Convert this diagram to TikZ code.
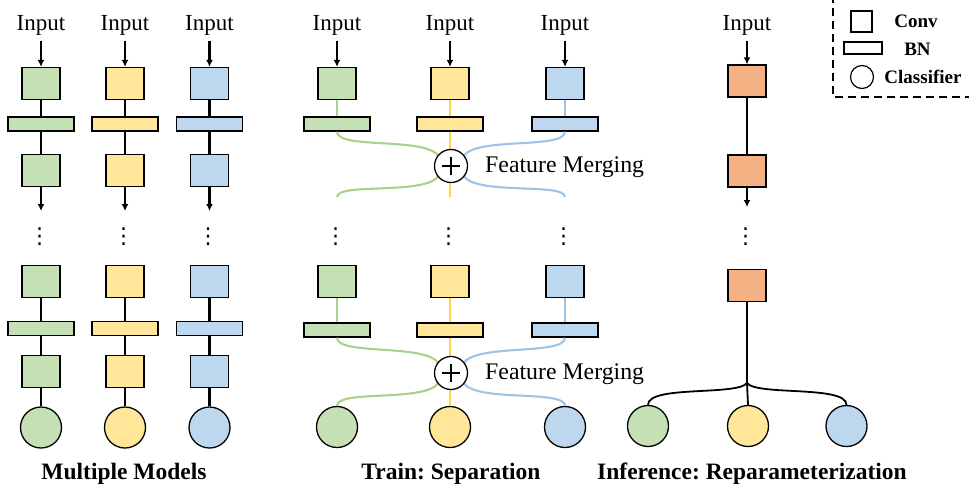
\documentclass[tikz,border=0pt]{standalone}
\usepackage{fontspec}
\setmainfont{Liberation Serif}
\newfontfamily\dvs{DejaVu Sans}
\usetikzlibrary{arrows.meta}
\definecolor{cg}{HTML}{C5E0B4}
\definecolor{cy}{HTML}{FFE699}
\definecolor{cb}{HTML}{BDD7EE}
\definecolor{co}{HTML}{F4B183}
\definecolor{lg}{HTML}{A9D18E}
\definecolor{ly}{HTML}{FFD347}
\definecolor{lb}{HTML}{9DC3E6}
\frenchspacing
\begin{document}
\begin{tikzpicture}[x=1pt,y=-1pt,
  conv/.style={draw, line width=1.3pt, minimum width=38pt, minimum height=32pt, inner sep=0pt},
  bnbox/.style={draw, line width=1.3pt, minimum width=66pt, minimum height=14pt, inner sep=0pt},
  cls/.style={draw, circle, line width=1.3pt, minimum size=41pt, inner sep=0pt},
  plusc/.style={draw, circle, line width=1.3pt, minimum size=33pt, inner sep=0pt, fill=white},
  inp/.style={font=\fontsize{23}{27}\selectfont, anchor=base, inner sep=2pt},
  fmt/.style={font=\fontsize{23.8}{27}\selectfont, anchor=west, inner sep=0pt},
  ttl/.style={font=\fontsize{23.5}{28}\selectfont\bfseries},
  lgd/.style={font=\fontsize{19}{22}\selectfont\bfseries},
  vd/.style={font=\dvs\fontsize{22}{24}\selectfont, inner sep=0pt},
  blk/.style={line width=2.5pt},
  arr/.style={line width=2.5pt, -{Latex[length=7pt,width=7pt]}},
  col/.style={line width=2.1pt}
]
\useasboundingbox (0,0) rectangle (969,490);

% ---------------- Multiple Models ----------------
\foreach \c/\x/\n in {cg/41/a, cy/125/b, cb/209.5/c}{
  \node[inp] (mi\n) at (\x,30) {Input};
  \node[conv, fill=\c] (mc1\n) at (\x,83.5) {};
  \node[bnbox, fill=\c] (mb1\n) at (\x,124) {};
  \node[conv, fill=\c] (mc2\n) at (\x,170.5) {};
  \coordinate (me\n) at (\x,211);
  \node[vd] (md\n) at (\x-1.5,237) {⋮};
  \node[conv, fill=\c] (mc3\n) at (\x,281.5) {};
  \node[bnbox, fill=\c] (mb2\n) at (\x,328.5) {};
  \node[conv, fill=\c] (mc4\n) at (\x,371.5) {};
  \node[cls, fill=\c] (mk\n) at (\x,427.5) {};
  \draw[arr, shorten <=4pt] (mi\n.south) -- (mc1\n.north);
  \draw[blk] (mc1\n) -- (mb1\n);
  \draw[blk] (mb1\n) -- (mc2\n);
  \draw[arr] (mc2\n.south) -- (me\n);
  \draw[blk] (mc3\n) -- (mb2\n);
  \draw[blk] (mb2\n) -- (mc4\n);
  \draw[blk] (mc4\n) -- (mk\n);
}
\node[ttl] (t1) at (124,474) {Multiple Models};

% ---------------- Train: Separation ----------------
\foreach \c/\l/\x/\n in {cg/lg/337/a, cy/ly/450/b, cb/lb/565/c}{
  \node[inp] (ti\n) at (\x,30) {Input};
  \node[conv, fill=\c] (tc1\n) at (\x,83.5) {};
  \node[bnbox, fill=\c] (tb1\n) at (\x,124) {};
  \coordinate (te\n) at (\x,197);
  \node[vd] (td\n) at (\x-1.5,237) {⋮};
  \node[conv, fill=\c] (tc2\n) at (\x,281.5) {};
  \node[bnbox, fill=\c] (tb2\n) at (\x,330) {};
  \node[cls, fill=\c] (tk\n) at (\x,427) {};
  \draw[arr, shorten <=4pt] (ti\n.south) -- (tc1\n.north);
  \draw[col, \l] (tc1\n) -- (tb1\n);
  \draw[col, \l] (tc2\n) -- (tb2\n);
}
% yellow verticals
\draw[col, ly] (tb1b.south) -- (teb);
\draw[col, ly] (tb2b.south) -- (tkb.north);
% top curves
\draw[col, lg] (tb1a.south) .. controls (337,150) and (428,136) .. (439,157);
\draw[col, lg] (439,175) .. controls (428,196) and (337,182) .. (tea);
\draw[col, lb] (tb1c.south) .. controls (565,150) and (474,136) .. (463,157);
\draw[col, lb] (463,175) .. controls (474,196) and (565,182) .. (tec);
% bottom curves
\draw[col, lg] (tb2a.south) .. controls (337,356) and (428,343) .. (439,364);
\draw[col, lg] (439,382) .. controls (428,403) and (337,389) .. (tka.north);
\draw[col, lb] (tb2c.south) .. controls (565,356) and (474,343) .. (463,364);
\draw[col, lb] (463,382) .. controls (474,403) and (565,389) .. (tkc.north);
% plus nodes
\node[plusc] (p1) at (451,166) {};
\node[plusc] (p2) at (451,373) {};
\foreach \p in {p1,p2}{
  \draw[line width=1.5pt] ([xshift=-9pt]\p.center) -- ([xshift=9pt]\p.center);
  \draw[line width=1.5pt] ([yshift=-9pt]\p.center) -- ([yshift=9pt]\p.center);
}
\node[fmt] (fm1) at (485,167) {Feature Merging};
\node[fmt] (fm2) at (485,374) {Feature Merging};
\node[ttl] (t2) at (451,474) {Train: Separation};

% ---------------- Inference ----------------
\node[inp] (ii) at (747,30) {Input};
\node[conv, fill=co] (ic1) at (747,81) {};
\node[conv, fill=co] (ic2) at (747,171) {};
\coordinate (ie) at (747,207);
\node[vd] (id) at (745.5,237) {⋮};
\node[conv, fill=co] (ic3) at (747,285.5) {};
\coordinate (ij) at (747,383);
\node[cls, fill=cg] (ika) at (648,426) {};
\node[cls, fill=cy] (ikb) at (748,426) {};
\node[cls, fill=cb] (ikc) at (846.5,426) {};
\draw[arr, shorten <=4pt] (ii.south) -- (ic1.north);
\draw[blk] (ic1) -- (ic2);
\draw[arr] (ic2.south) -- (ie);
\draw[blk] (ic3.south) -- (ij);
\draw[line width=1.8pt] (ij) -- (ikb.north);
\draw[line width=1.8pt] (ij) .. controls (737,396) and (648,385) .. (ika.north);
\draw[line width=1.8pt] (ij) .. controls (757,396) and (846.5,385) .. (ikc.north);
\node[ttl] (t3) at (752,474) {Inference: Reparameterization};

% ---------------- Legend ----------------
\draw[line width=1.2pt, dash pattern=on 8pt off 5pt] (833,-5) -- (833,97) -- (975,97);
\node[draw, line width=1.2pt, minimum size=21pt, inner sep=0pt] (lc) at (861.5,21.5) {};
\node[draw, line width=1.2pt, minimum width=38pt, minimum height=12pt, inner sep=0pt] (lb) at (863,48) {};
\node[draw, circle, line width=1.2pt, minimum size=23pt, inner sep=0pt] (lk) at (862,77) {};
\node[lgd] (lt1) at (916,21) {Conv};
\node[lgd] (lt2) at (917.5,49) {BN};
\node[lgd] (lt3) at (923,77) {Classifier};
\end{tikzpicture}
\end{document}
